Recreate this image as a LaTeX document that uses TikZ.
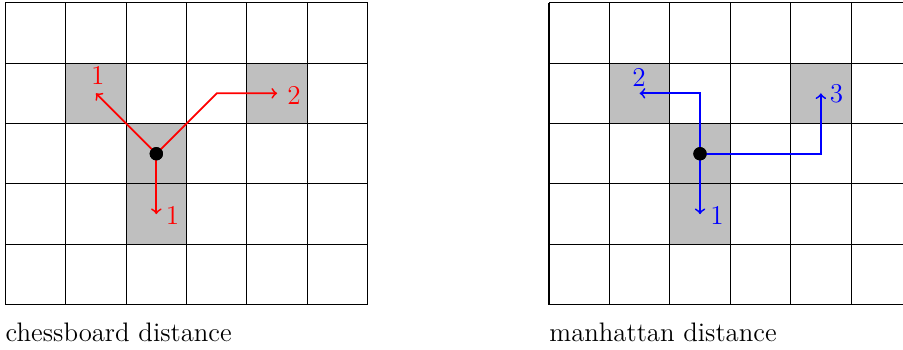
\documentclass[tikz,border=0pt]{standalone}
\begin{document}
\begin{tikzpicture}[
  cell/.style={fill=lightgray},
  gridline/.style={line width=0.5pt, black},
  redarrow/.style={->, red, line width=0.85pt},
  bluearrow/.style={->, blue, line width=0.85pt},
  dotnode/.style={circle, fill=black, inner sep=0pt, minimum size=0.22cm},
  lab/.style={inner sep=0pt, font=\fontsize{12.8}{15}\selectfont},
  caption/.style={inner sep=0pt, anchor=base west, font=\fontsize{12.6}{15}\selectfont}
]
\useasboundingbox (-0.088,-0.733) rectangle (14.86,5.045);

% ---------- left grid ----------
\fill[cell] (1,3) rectangle (2,4);
\fill[cell] (4,3) rectangle (5,4);
\fill[cell] (2,1) rectangle (3,3);
\draw[gridline] (0,0) grid (6,5);

\node[dotnode] (lc) at (2.5,2.5) {};
\coordinate (lt1) at (1.5,3.5);
\coordinate (lk2) at (3.5,3.5);
\coordinate (lt2) at (4.5,3.5);
\coordinate (lt3) at (2.5,1.5);
\draw[redarrow] (lc.center) -- (lt1);
\draw[redarrow] (lc.center) -- (lk2) -- (lt2);
\draw[redarrow] (lc.center) -- (lt3);
\node[dotnode] at (lc.center) {};
\node[lab, text=red] (ll1) at (1.53,3.80) {1};
\node[lab, text=red] (ll2) at (4.78,3.47) {2};
\node[lab, text=red] (ll3) at (2.77,1.485) {1};
\node[caption] (lcap) at (0,-0.61) {chessboard distance};

% ---------- right grid ----------
\fill[cell] (10,3) rectangle (11,4);
\fill[cell] (13,3) rectangle (14,4);
\fill[cell] (11,1) rectangle (12,3);
\draw[gridline] (9,0) grid (15,5);

\node[dotnode] (rc) at (11.5,2.5) {};
\coordinate (rk2) at (11.5,3.5);
\coordinate (rt2) at (10.5,3.5);
\coordinate (rk3) at (13.5,2.5);
\coordinate (rt3) at (13.5,3.5);
\coordinate (rt1) at (11.5,1.5);
\draw[bluearrow] (rc.center) -- (rk2) -- (rt2);
\draw[bluearrow] (rc.center) -- (rk3) -- (rt3);
\draw[bluearrow] (rc.center) -- (rt1);
\node[dotnode] at (rc.center) {};
\node[lab, text=blue] (rl2) at (10.49,3.76) {2};
\node[lab, text=blue] (rl3) at (13.76,3.49) {3};
\node[lab, text=blue] (rl1) at (11.78,1.485) {1};
\node[caption] (rcap) at (9,-0.61) {manhattan distance};
\end{tikzpicture}
\end{document}
